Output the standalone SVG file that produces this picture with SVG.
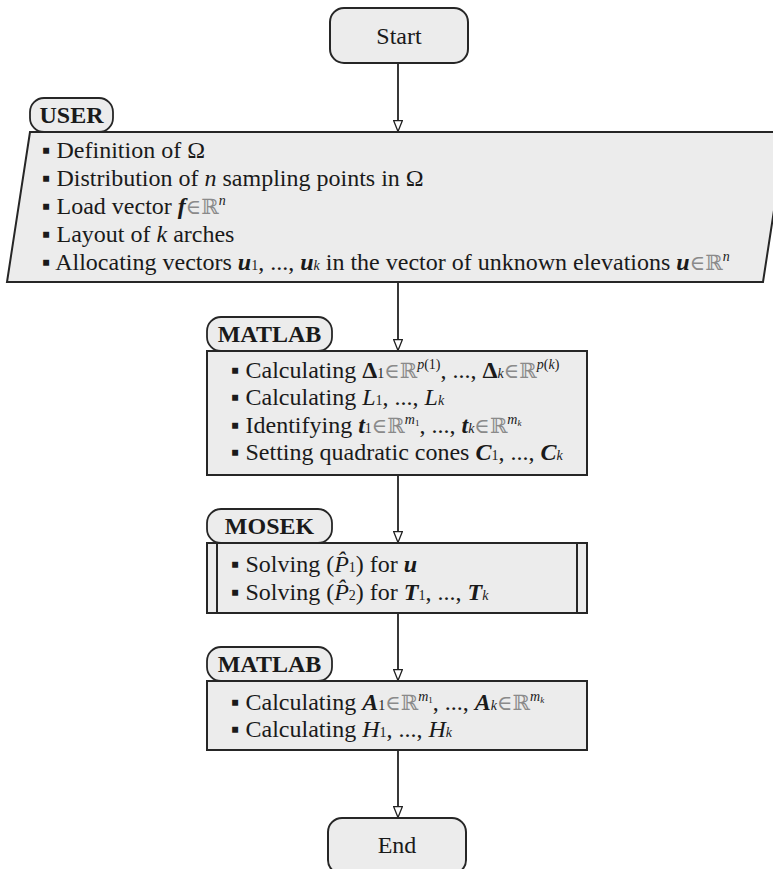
<svg xmlns="http://www.w3.org/2000/svg" width="773" height="869" viewBox="0 0 773 869">
<defs>
<marker id="arr" viewBox="0 0 12 10" refX="12" refY="5" markerWidth="12" markerHeight="10" markerUnits="userSpaceOnUse" orient="auto">
<path d="M0.7,0.7 L11.5,5 L0.7,9.3 Z" fill="#fff" stroke="#222" stroke-width="1.3"/>
</marker>
</defs>
<style>
.box{fill:#ececec;stroke:#262626;stroke-width:2}
.pill{fill:#ececec;stroke:#262626;stroke-width:1.8}
text{font-family:'Liberation Serif','Times New Roman',Tinos,'DejaVu Serif',serif;font-size:24px;fill:#1a1a1a}
.b{font-weight:bold}
.i{font-style:italic}
.bi{font-weight:bold;font-style:italic}
.s{font-size:14px}
.R{fill:#8a8a8a;font-family:'DejaVu Serif',serif;font-size:21px}
.c{text-anchor:middle}
.conn{stroke:#222;stroke-width:1.8;fill:none;marker-end:url(#arr)}
</style>

<g id="connectors">
<line class="conn" x1="398" y1="63" x2="398" y2="132"/>
<line class="conn" x1="398" y1="282" x2="398" y2="351"/>
<line class="conn" x1="398" y1="475" x2="398" y2="543"/>
<line class="conn" x1="398" y1="613" x2="398" y2="681"/>
<line class="conn" x1="398" y1="750" x2="398" y2="818"/>
</g>

<g id="start">
<rect class="box" x="330" y="8" width="138" height="55" rx="14"/>
<text class="c" x="399" y="44" font-family="Liberation Serif, serif">Start</text>
</g>

<g id="user">
<polygon class="box" points="30,132 786,132 763,282 7,282"/>
<rect class="pill" x="30" y="98" width="83" height="34" rx="14"/>
<text class="b c" x="71.5" y="123">USER</text>
<text x="42" y="158">▪ Definition of Ω</text>
<text x="42" y="186">▪ Distribution of <tspan class="i">n</tspan> sampling points in Ω</text>
<text x="42" y="214">▪ Load vector <tspan class="bi">f</tspan><tspan class="R">∈ℝ</tspan><tspan class="i s" dy="-9">n</tspan></text>
<text x="42" y="242">▪ Layout of <tspan class="i">k</tspan> arches</text>
<text x="42" y="270">▪ Allocating vectors <tspan class="bi">u</tspan><tspan class="s">1</tspan>, ..., <tspan class="bi">u</tspan><tspan class="s i">k</tspan> in the vector of unknown elevations <tspan class="bi">u</tspan><tspan class="R">∈ℝ</tspan><tspan class="i s" dy="-9">n</tspan></text>
</g>

<g id="matlab1">
<rect class="box" x="207" y="351" width="380" height="124"/>
<rect class="pill" x="207" y="317" width="125" height="34" rx="14"/>
<text class="b c" x="269.5" y="342">MATLAB</text>
<text x="231" y="378">▪ Calculating <tspan class="b">Δ</tspan><tspan class="s">1</tspan><tspan class="R">∈ℝ</tspan><tspan class="s" dy="-9"><tspan class="i">p</tspan>(1)</tspan><tspan dy="9">, ..., </tspan><tspan class="b">Δ</tspan><tspan class="s i">k</tspan><tspan class="R">∈ℝ</tspan><tspan class="s" dy="-9"><tspan class="i">p</tspan>(<tspan class="i">k</tspan>)</tspan></text>
<text x="231" y="405">▪ Calculating <tspan class="i">L</tspan><tspan class="s">1</tspan>, ..., <tspan class="i">L</tspan><tspan class="s i">k</tspan></text>
<text x="231" y="433">▪ Identifying <tspan class="bi">t</tspan><tspan class="s">1</tspan><tspan class="R">∈ℝ</tspan><tspan class="s i" dy="-9">m</tspan><tspan style="font-size:9px" dy="2">1</tspan><tspan dy="7">, ..., </tspan><tspan class="bi">t</tspan><tspan class="s i">k</tspan><tspan class="R">∈ℝ</tspan><tspan class="s i" dy="-9">m</tspan><tspan class="i" style="font-size:9px" dy="2">k</tspan></text>
<text x="231" y="460">▪ Setting quadratic cones <tspan class="bi">C</tspan><tspan class="s">1</tspan>, ..., <tspan class="bi">C</tspan><tspan class="s i">k</tspan></text>
</g>

<g id="mosek">
<rect class="box" x="207" y="543" width="380" height="70"/>
<line x1="217" y1="543" x2="217" y2="613" stroke="#262626" stroke-width="2"/>
<line x1="577" y1="543" x2="577" y2="613" stroke="#262626" stroke-width="2"/>
<rect class="pill" x="207" y="509" width="125" height="34" rx="14"/>
<text class="b c" x="269.5" y="534">MOSEK</text>
<text x="231" y="572">▪ Solving (<tspan class="i">P̂</tspan><tspan class="s">1</tspan>) for <tspan class="bi">u</tspan></text>
<text x="231" y="600">▪ Solving (<tspan class="i">P̂</tspan><tspan class="s">2</tspan>) for <tspan class="bi">T</tspan><tspan class="s">1</tspan>, ..., <tspan class="bi">T</tspan><tspan class="s i">k</tspan></text>
</g>

<g id="matlab2">
<rect class="box" x="207" y="681" width="380" height="69"/>
<rect class="pill" x="207" y="647" width="125" height="34" rx="14"/>
<text class="b c" x="269.5" y="672">MATLAB</text>
<text x="231" y="710">▪ Calculating <tspan class="bi">A</tspan><tspan class="s">1</tspan><tspan class="R">∈ℝ</tspan><tspan class="s i" dy="-9">m</tspan><tspan style="font-size:9px" dy="2">1</tspan><tspan dy="7">, ..., </tspan><tspan class="bi">A</tspan><tspan class="s i">k</tspan><tspan class="R">∈ℝ</tspan><tspan class="s i" dy="-9">m</tspan><tspan class="i" style="font-size:9px" dy="2">k</tspan></text>
<text x="231" y="737">▪ Calculating <tspan class="i">H</tspan><tspan class="s">1</tspan>, ..., <tspan class="i">H</tspan><tspan class="s i">k</tspan></text>
</g>

<g id="end">
<rect class="box" x="328" y="818" width="138" height="56" rx="14"/>
<text class="c" x="397" y="853">End</text>
</g>
</svg>
